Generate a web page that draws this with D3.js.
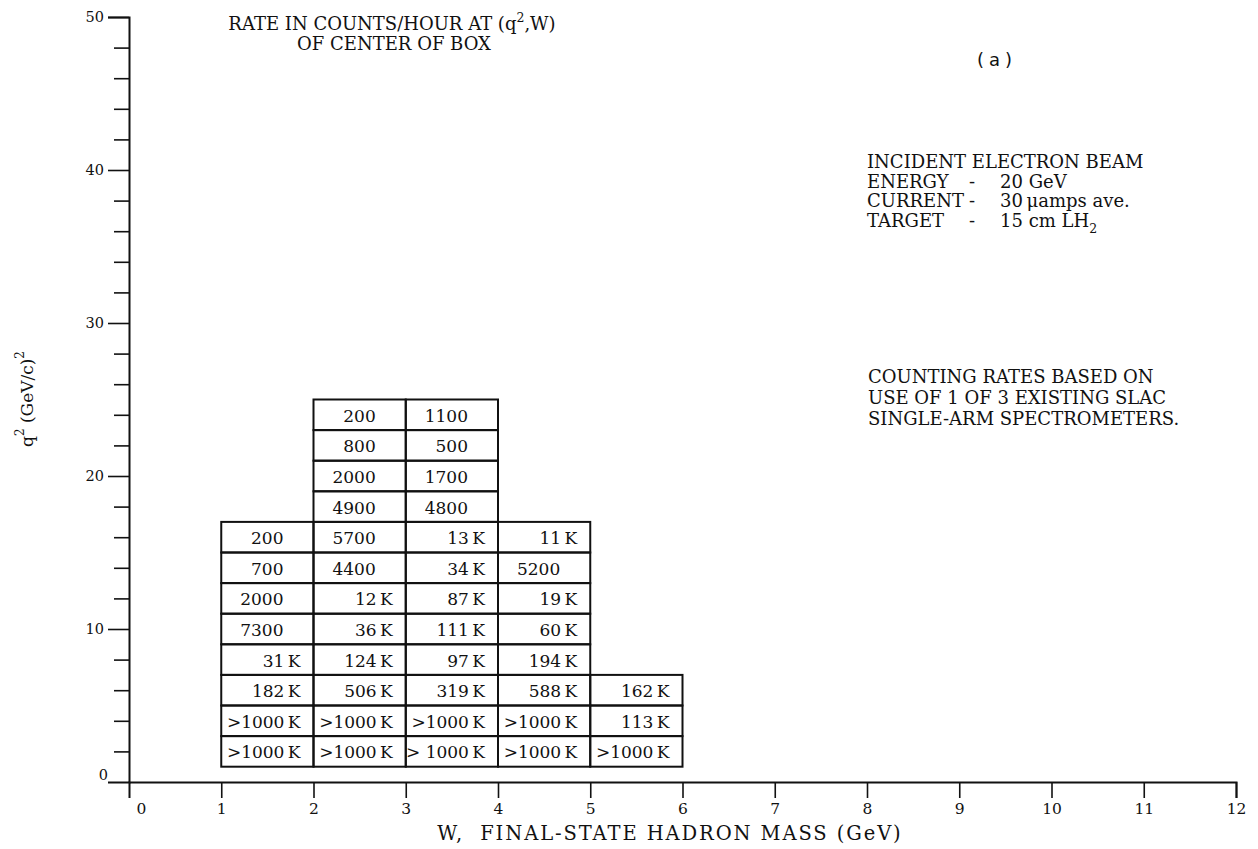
<!DOCTYPE html>
<html>
<head>
<meta charset="utf-8">
<script src="https://cdn.jsdelivr.net/npm/d3@7"></script>
<style>
  html, body { margin: 0; padding: 0; background: #fff; }
  svg { display: block; }
  text { fill: #111; }
</style>
</head>
<body>
<svg id="chart" width="1258" height="849"></svg>
<script>
// ---- Data ----
// W bins (GeV): lower edges of each 1-GeV column
const wBinLow = [1, 2, 3, 4, 5];
// q^2 bins: each column starts at its lowest q^2 edge, rows are 2 (GeV/c)^2 tall
const qStart = [1, 1, 1, 1, 1];
const qBinHeight = 2;
// Rates (counts/hour), listed from the lowest q^2 row upward
const ratesW1to2 = [">1000 K", ">1000 K", "182 K", "31 K", "7300", "2000", "700", "200"];
const ratesW2to3 = [">1000 K", ">1000 K", "506 K", "124 K", "36 K", "12 K", "4400", "5700", "4900", "2000", "800", "200"];
const ratesW3to4 = ["> 1000 K", ">1000 K", "319 K", "97 K", "111 K", "87 K", "34 K", "13 K", "4800", "1700", "500", "1100"];
const ratesW4to5 = [">1000 K", ">1000 K", "588 K", "194 K", "60 K", "19 K", "5200", "11 K"];
const ratesW5to6 = [">1000 K", "113 K", "162 K"];
const rateColumns = [ratesW1to2, ratesW2to3, ratesW3to4, ratesW4to5, ratesW5to6];

// Axes
const xTicks = [0, 1, 2, 3, 4, 5, 6, 7, 8, 9, 10, 11, 12];
const yMajorTicks = [0, 10, 20, 30, 40, 50];
const yMinorTicks = [2, 4, 6, 8, 12, 14, 16, 18, 22, 24, 26, 28, 32, 34, 36, 38, 42, 44, 46, 48];

const titleLine2 = "OF CENTER OF BOX";
const beamLabels = ["INCIDENT ELECTRON BEAM", "ENERGY", "CURRENT", "TARGET"];
const beamValues = ["", "20 GeV", "30\u2009\u03BCamps ave.", "15 cm LH"];
const noteLines = ["COUNTING RATES BASED ON", "USE OF 1 OF 3 EXISTING SLAC", "SINGLE-ARM SPECTROMETERS."];

// ---- Drawing ----
const svg = d3.select("#chart");
const serif = "'DejaVu Serif', serif";
const ink = "#111";

const x = d3.scaleLinear().domain([0, 12]).range([129, 1236]);
const y = d3.scaleLinear().domain([0, 50]).range([782, 17]);

// cells
const cells = [];
rateColumns.forEach((col, ci) => {
  col.forEach((v, ri) => {
    const q0 = qStart[ci] + ri * qBinHeight;
    cells.push({ w0: wBinLow[ci], w1: wBinLow[ci] + 1, q0: q0, q1: q0 + qBinHeight, v: v });
  });
});

const g = svg.append("g");
g.selectAll("rect.cell").data(cells).enter().append("rect")
  .attr("class", "cell")
  .attr("x", d => x(d.w0))
  .attr("y", d => y(d.q1))
  .attr("width", d => x(d.w1) - x(d.w0))
  .attr("height", d => y(d.q0) - y(d.q1))
  .attr("fill", "none")
  .attr("stroke", ink)
  .attr("stroke-width", 2);

g.selectAll("text.cell").data(cells).enter().append("text")
  .attr("class", "cell")
  .attr("x", d => /K$/.test(d.v) ? x(d.w1) - 13 : x(d.w1) - 30)
  .attr("y", d => (y(d.q0) + y(d.q1)) / 2 + 7)
  .attr("text-anchor", "end")
  .attr("font-family", serif)
  .attr("font-size", 17)
  .text(d => d.v.replace(" K", "\u2009K"));

// x axis
const xAxis = d3.axisBottom(x).tickValues(xTicks).tickSize(16).tickPadding(5).tickFormat(d3.format("d"));
const gx = svg.append("g").attr("transform", `translate(0,${y(0)})`).call(xAxis);
gx.select(".domain").attr("stroke", ink).attr("stroke-width", 2);
gx.selectAll(".tick line").attr("stroke", ink).attr("stroke-width", 1.6);
gx.selectAll(".tick").filter(d => d === 0).select("line").remove();
gx.selectAll(".tick").filter(d => d === 0).select("text").attr("dx", 12);
gx.selectAll(".tick text").attr("font-family", serif).attr("font-size", 15.5).attr("fill", ink);

// y axis
const yAxis = d3.axisLeft(y).tickValues(yMajorTicks).tickSize(21).tickPadding(4).tickFormat(d3.format("d"));
const gy = svg.append("g").attr("transform", `translate(${x(0)},0)`).call(yAxis);
gy.select(".domain").attr("stroke", ink).attr("stroke-width", 2);
gy.selectAll(".tick line").attr("stroke", ink).attr("stroke-width", 1.6);
gy.selectAll(".tick").filter(d => d === 0).select("line").remove();
gy.selectAll(".tick").filter(d => d === 0).select("text").attr("dy", "-0.15em").attr("dx", 4);
gy.selectAll(".tick text").attr("font-family", serif).attr("font-size", 14.5).attr("fill", ink);

const yMinor = d3.axisLeft(y).tickValues(yMinorTicks).tickSize(15).tickFormat("");
const gym = svg.append("g").attr("transform", `translate(${x(0)},0)`).call(yMinor);
gym.select(".domain").remove();
gym.selectAll(".tick line").attr("stroke", ink).attr("stroke-width", 1.6);

// axis titles
svg.append("text")
  .attr("x", 670).attr("y", 840)
  .attr("text-anchor", "middle")
  .attr("font-family", serif).attr("font-size", 19.5).attr("letter-spacing", 1.9)
  .attr("xml:space", "preserve")
  .text("W,  FINAL-STATE HADRON MASS (GeV)");

const yl = svg.append("text")
  .attr("transform", "translate(33,399) rotate(-90)")
  .attr("text-anchor", "middle")
  .attr("font-family", serif).attr("font-size", 17);
yl.append("tspan").text("q");
yl.append("tspan").attr("dy", -9).attr("font-size", 12).text("2");
yl.append("tspan").attr("dy", 9).text(" (GeV/c)");
yl.append("tspan").attr("dy", -9).attr("font-size", 12).text("2");

// title
const t1 = svg.append("text").attr("x", 392).attr("y", 30).attr("text-anchor", "middle")
  .attr("font-family", serif).attr("font-size", 18);
t1.append("tspan").text("RATE IN COUNTS/HOUR AT (q");
t1.append("tspan").attr("dy", -8).attr("font-size", 12.5).text("2");
t1.append("tspan").attr("dy", 8).text(",W)");
svg.append("text").attr("x", 394).attr("y", 50).attr("text-anchor", "middle")
  .attr("font-family", serif).attr("font-size", 18).text(titleLine2);

// (a)
svg.append("text").attr("x", 977).attr("y", 66)
  .attr("font-family", "'DejaVu Sans', sans-serif").attr("font-size", 18).attr("letter-spacing", 5)
  .text("(a)");

// beam description
beamLabels.forEach((lab, i) => {
  const yy = 168 + i * 19.5;
  svg.append("text").attr("x", 867).attr("y", yy)
    .attr("font-family", serif).attr("font-size", 18).text(lab);
  if (beamValues[i]) {
    svg.append("text").attr("x", 969).attr("y", yy)
      .attr("font-family", serif).attr("font-size", 18).text("-");
    const tt = svg.append("text").attr("x", 1000).attr("y", yy)
      .attr("font-family", serif).attr("font-size", 18).text(beamValues[i]);
    if (i === 3) tt.append("tspan").attr("dy", 6).attr("font-size", 12.5).text("2");
  }
});

// counting note
noteLines.forEach((l, i) => {
  svg.append("text").attr("x", 868).attr("y", 383 + i * 21)
    .attr("font-family", serif).attr("font-size", 18).text(l);
});
</script>
</body>
</html>
